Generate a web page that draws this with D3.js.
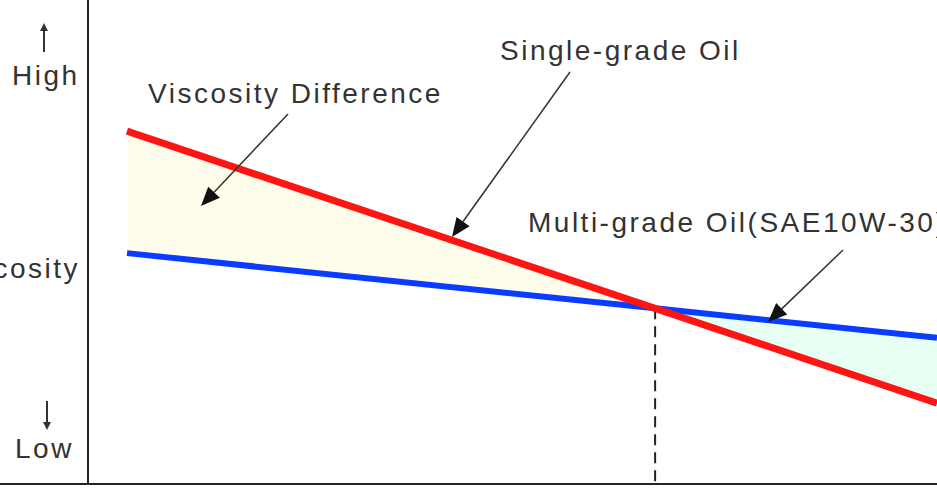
<!DOCTYPE html>
<html>
<head>
<meta charset="utf-8">
<script src="https://cdn.jsdelivr.net/npm/d3@7"></script>
<style>
  html, body { margin: 0; padding: 0; background: #fff; }
  svg { display: block; }
  text { font-family: "Liberation Sans", Arial, sans-serif; fill: #333; }
</style>
</head>
<body>
<svg id="chart" width="937" height="488"></svg>
<script>
// Temperature (relative, 0 = low end, 100 = right edge)
const temperature = [0, 65.2, 100];
// Viscosity (relative, 0..100)
const singleGrade = [72.9, 36.3, 16.7];
const multiGrade  = [47.7, 36.3, 30.2];
const crossoverIndex = 1;
const yLabels = ["High", "Viscosity", "Low"];
const annotations = [
  { text: "Viscosity Difference", tx: 148, ty: 103, from: [288, 114], to: [201, 206] },
  { text: "Single-grade Oil", tx: 500, ty: 60, from: [570, 72], to: [452, 237] },
  { text: "Multi-grade Oil(SAE10W-30)", tx: 528, ty: 232, from: [843, 250], to: [768, 322] }
];

const svg = d3.select("#chart");
const x = d3.scaleLinear().domain([0, 100]).range([127, 937]);
const y = d3.scaleLinear().domain([0, 100]).range([484, 0]);

const pts = (vals) => temperature.map((t, i) => [t, vals[i]]);
const red = pts(singleGrade), blue = pts(multiGrade);

// filled difference regions
const poly = d3.line().x(d => x(d[0])).y(d => y(d[1]));
svg.append("path")
  .attr("d", poly([red[0], red[1], blue[0]]) + "Z")
  .attr("fill", "#fffdeb");
svg.append("path")
  .attr("d", poly([blue[1], blue[2], red[2]]) + "Z")
  .attr("fill", "#e8fff3");

// axes
svg.append("line").attr("x1", 88).attr("x2", 88).attr("y1", 0).attr("y2", y(0))
  .attr("stroke", "#222").attr("stroke-width", 2);
svg.append("line").attr("x1", 0).attr("x2", 937).attr("y1", y(0)).attr("y2", y(0))
  .attr("stroke", "#222").attr("stroke-width", 2);

// dashed crossover line
svg.append("line")
  .attr("x1", x(temperature[crossoverIndex])).attr("x2", x(temperature[crossoverIndex]))
  .attr("y1", y(singleGrade[crossoverIndex])).attr("y2", y(0))
  .attr("stroke", "#222").attr("stroke-width", 2).attr("stroke-dasharray", "11,7");

// lines
const line = d3.line().x(d => x(d[0])).y(d => y(d[1]));
svg.append("path").attr("d", line(blue)).attr("fill", "none")
  .attr("stroke", "#0a3cff").attr("stroke-width", 6);
svg.append("path").attr("d", line(red)).attr("fill", "none")
  .attr("stroke", "#ff1414").attr("stroke-width", 7);

// small vertical arrows next to High / Low
function vArrow(cx, yTail, yTip) {
  const dir = Math.sign(yTip - yTail);
  svg.append("line").attr("x1", cx).attr("x2", cx).attr("y1", yTail).attr("y2", yTip - dir * 6)
    .attr("stroke", "#333").attr("stroke-width", 2);
  svg.append("path")
    .attr("d", `M${cx},${yTip}L${cx - 4},${yTip - dir * 8}L${cx + 4},${yTip - dir * 8}Z`)
    .attr("fill", "#333");
}
vArrow(44, 52, 23);
vArrow(47, 401, 430);

// y labels
const lab = { "font-size": "28px", "letter-spacing": "2.5px" };
svg.append("text").attr("x", 12).attr("y", 85).style("font-size", "28px")
  .style("letter-spacing", "2.5px").text(yLabels[0]);
svg.append("text").attr("x", 80).attr("y", 278).attr("text-anchor", "end")
  .style("font-size", "28px").style("letter-spacing", "2.5px").text(yLabels[1]);
svg.append("text").attr("x", 15).attr("y", 458).style("font-size", "28px")
  .style("letter-spacing", "2.5px").text(yLabels[2]);

// annotations
annotations.forEach(a => {
  svg.append("text").attr("x", a.tx).attr("y", a.ty)
    .style("font-size", "28px").style("letter-spacing", "2.5px").text(a.text);
  const [x1, y1] = a.from, [x2, y2] = a.to;
  const ang = Math.atan2(y2 - y1, x2 - x1);
  const L = 19, W = 8;
  const bx = x2 - L * Math.cos(ang), by = y2 - L * Math.sin(ang);
  svg.append("line").attr("x1", x1).attr("y1", y1).attr("x2", bx).attr("y2", by)
    .attr("stroke", "#333").attr("stroke-width", 1.5);
  const px = -Math.sin(ang), py = Math.cos(ang);
  svg.append("path")
    .attr("d", `M${x2},${y2}L${bx + px * W},${by + py * W}L${bx - px * W},${by - py * W}Z`)
    .attr("fill", "#111");
});
</script>
</body>
</html>
